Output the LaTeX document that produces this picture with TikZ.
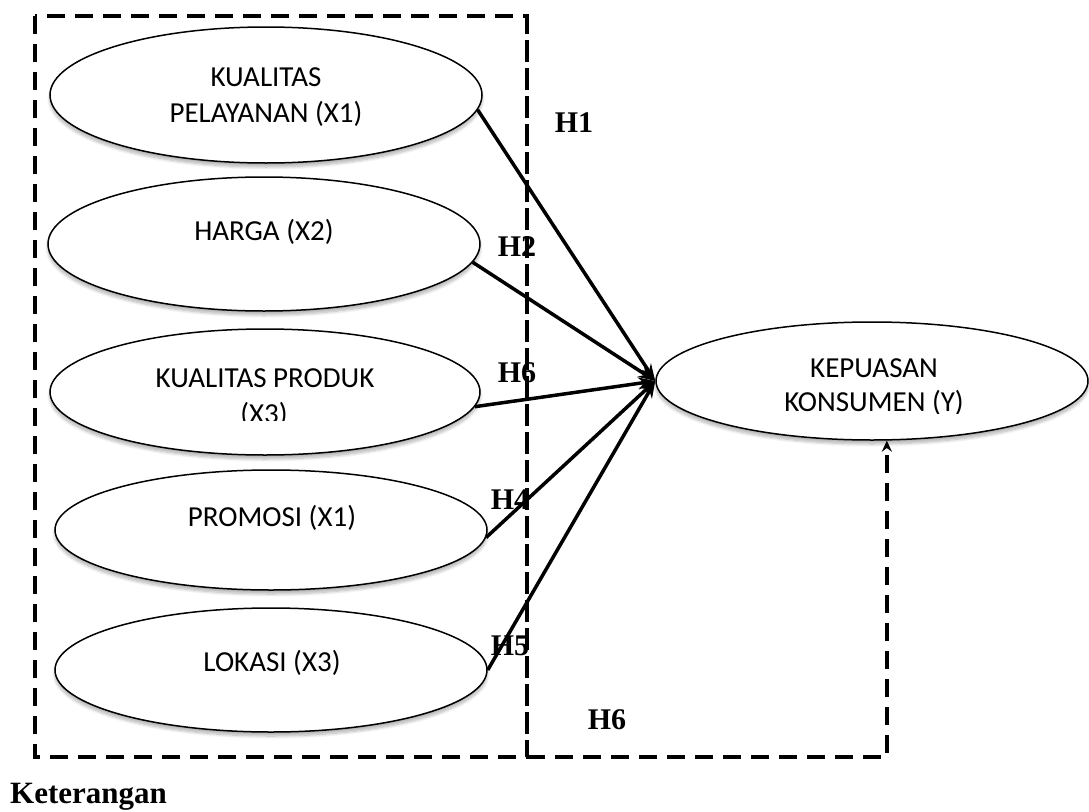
\documentclass[tikz,border=0pt]{standalone}
\usepackage{fontspec}
\setmainfont{Liberation Serif}
\newfontfamily\calibri{Carlito}
\usetikzlibrary{arrows.meta,shadows,shadows.blur,shapes.geometric}
\begin{document}
\begin{tikzpicture}[x=1pt,y=-1pt,
  ell/.style={draw,ellipse,line width=1.5pt,fill=white,inner sep=0pt,
    blur shadow={shadow xshift=0pt,shadow yshift=-4pt,shadow opacity=30,shadow blur steps=8,shadow blur radius=3pt}},
  etext/.style={anchor=base,inner sep=0pt,font=\calibri\fontsize{29}{36}\selectfont},
  hlab/.style={inner sep=0pt,font=\bfseries\fontsize{30}{36}\selectfont},
  conn/.style={line width=3.5pt,-{Stealth[length=17pt,width=12pt]}},
  dsh/.style={line width=3.6pt,dash pattern=on 18pt off 10pt}]
\useasboundingbox (0,0) rectangle (1089,811);

% dashed frame
\coordinate (tl) at (35,16);
\coordinate (br) at (527,757);
\draw[dsh] (tl) rectangle (br);

% ellipses
\node[ell,minimum width=432pt,minimum height=136pt] (E1) at (266,95) {};
\node[ell,minimum width=432pt,minimum height=134pt] (E2) at (264,244) {};
\node[ell,minimum width=430pt,minimum height=126pt] (E3) at (265,392) {};
\node[ell,minimum width=432pt,minimum height=120pt] (E4) at (271,530) {};
\node[ell,minimum width=432pt,minimum height=124pt] (E5) at (271,670) {};
\node[ell,minimum width=432pt,minimum height=118pt] (EY) at (872,381) {};

% ellipse texts
\node[etext] (t1a) at (266,86) {KUALITAS};
\node[etext] (t1b) at (266,122) {PELAYANAN (X1)};
\node[etext] (t2) at (264,240) {HARGA (X2)};
\node[etext] (t3a) at (265,387) {KUALITAS PRODUK};
\begin{scope}
\clip (200,395) rectangle (330,420);
\node[etext] (t3b) at (264,423) {(X3)};
\end{scope}
\node[etext] (t4) at (272,526) {PROMOSI (X1)};
\node[etext] (t5) at (272,671) {LOKASI (X3)};
\node[etext] (tya) at (874,377) {KEPUASAN};
\begin{scope}
\clip (760,385) rectangle (990,413);
\node[etext] (tyb) at (874,411) {KONSUMEN (Y)};
\end{scope}

% hypothesis labels
\node[hlab] (h1) at (574,123) {H1};
\node[hlab] (h2) at (517,247) {H2};
\node[hlab] (h3) at (517,373) {H6};
\node[hlab] (h4) at (510,500) {H4};
\node[hlab] (h5) at (510,646) {H5};
\node[hlab] (h6) at (607,720) {H6};
\node[anchor=base west,inner sep=0pt,font=\bfseries\fontsize{31}{36}\selectfont] (ket) at (10,803) {Keterangan};

% redraw right frame edge over labels
\draw[dsh] (527,16) -- (br);

% arrows
\draw[conn] (E1.-4.9) -- (EY.west);
\draw[conn] (E2.-5.8) -- (EY.west);
\draw[conn] (E3.-4) -- (EY.west);
\draw[conn] (E4.-2) -- (EY.west);
\draw[conn] (E5.0.8) -- (EY.west);

% dashed feedback arrow
\draw[dsh,-{Stealth[length=11pt,width=10pt]}] (br) -| (EY.-76);
\end{tikzpicture}
\end{document}
